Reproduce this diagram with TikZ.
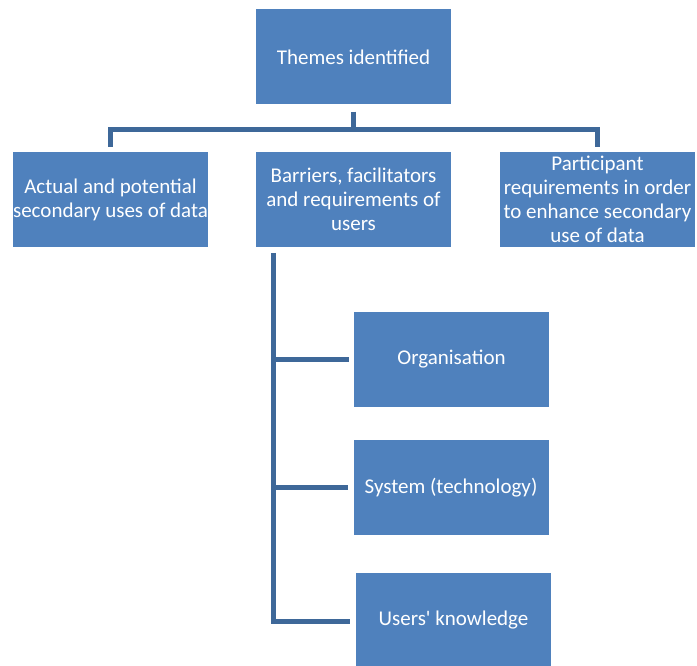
\documentclass[tikz,border=0pt]{standalone}
\usepackage{fontspec}
\setmainfont{Carlito}[Ligatures=TeXOff]
\definecolor{boxblue}{RGB}{79,129,189}
\definecolor{lineblue}{RGB}{62,104,153}
\begin{document}
\begin{tikzpicture}[x=1pt,y=-1pt,
  tbox/.style={fill=boxblue,draw=none,minimum width=195pt,minimum height=95pt,inner sep=0pt,
    text=white,align=center,font=\fontsize{21pt}{24pt}\selectfont},
  conn/.style={draw=lineblue,line width=5pt}]
\useasboundingbox (0,0) rectangle (697,666);
\node[tbox] (top) at (353.5,57) {Themes identified};
\node[tbox] (left) at (110.5,199.5) {Actual and potential\\secondary uses of data};
\node[tbox] (mid) at (353.5,199.5) {Barriers, facilitators\\and requirements of\\users};
\node[tbox] (right) at (597.5,199.5) {Participant\\requirements in order\\to enhance secondary\\use of data};
\node[tbox] (org) at (451.5,359.5) {Organisation};
\node[tbox] (sys) at (451,487.5) {System (technology)};
\node[tbox] (usr) at (453.5,620.5) {Users' knowledge};
\coordinate (bar) at (353.5,130);
\coordinate (trunk) at (273,253);
\coordinate (trunkend) at (273,621);
\draw[conn,shorten <=7pt] (top.south) -- (top.south |- bar);
\draw[conn,line cap=rect] (left.north |- bar) -- (right.north |- bar);
\draw[conn,shorten >=5pt] (left.north |- bar) -- (left.north);
\draw[conn,shorten >=5pt] (right.north |- bar) -- (right.north);
\draw[conn] (trunk) -- (trunkend) -- ++(77,0);
\draw[conn,shorten >=5pt] (trunk |- org.west) -- (org.west);
\draw[conn,shorten >=5pt] (trunk |- sys.west) -- (sys.west);
\end{tikzpicture}
\end{document}
